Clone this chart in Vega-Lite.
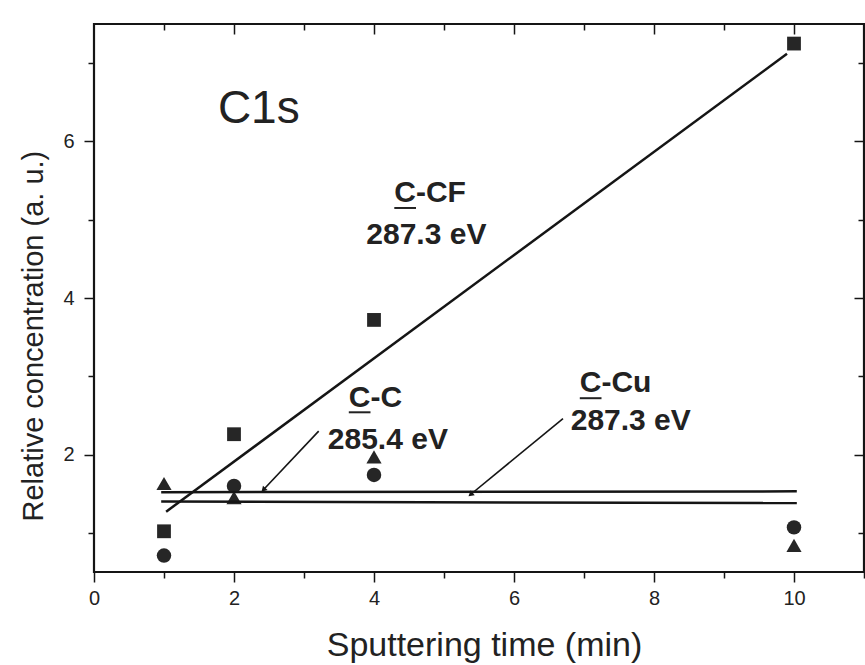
{
  "$schema": "https://vega.github.io/schema/vega-lite/v6.json",
  "width": 770,
  "height": 548,
  "autosize": {"type": "none"},
  "padding": {"left": 94, "top": 24, "right": 1, "bottom": 93},
  "background": "white",
  "config": {"view": {"stroke": "#151515", "strokeWidth": 2.2}, "font": "Liberation Sans"},
  "datasets": {
    "points": [
      {"series": "C-CF", "x": 1, "y": 1.02},
      {"series": "C-CF", "x": 2, "y": 2.26},
      {"series": "C-CF", "x": 4, "y": 3.72},
      {"series": "C-CF", "x": 10, "y": 7.25},
      {"series": "C-C", "x": 1, "y": 0.71},
      {"series": "C-C", "x": 2, "y": 1.6},
      {"series": "C-C", "x": 4, "y": 1.74},
      {"series": "C-C", "x": 10, "y": 1.07},
      {"series": "C-Cu", "x": 1, "y": 1.63},
      {"series": "C-Cu", "x": 2, "y": 1.45},
      {"series": "C-Cu", "x": 4, "y": 1.97},
      {"series": "C-Cu", "x": 10, "y": 0.84}
    ],
    "fits": [
      {"series": "C-CF", "x": 1.03, "y": 1.27},
      {"series": "C-CF", "x": 9.9, "y": 7.12},
      {"series": "C-C", "x": 0.96, "y": 1.52},
      {"series": "C-C", "x": 10.04, "y": 1.53},
      {"series": "C-Cu", "x": 0.96, "y": 1.4},
      {"series": "C-Cu", "x": 10.04, "y": 1.38}
    ],
    "labels": [
      {"text": "C-CF", "x": 4.29, "y": 5.34},
      {"text": "287.3 eV", "x": 3.89, "y": 4.81},
      {"text": "C-C", "x": 3.64, "y": 2.72},
      {"text": "285.4 eV", "x": 3.34, "y": 2.19},
      {"text": "C-Cu", "x": 6.94, "y": 2.91},
      {"text": "287.3 eV", "x": 6.81, "y": 2.43}
    ],
    "underlines": [
      {"label": "C-CF", "x": 4.29, "x2": 4.6, "y": 5.15},
      {"label": "C-C", "x": 3.64, "x2": 3.95, "y": 2.54},
      {"label": "C-Cu", "x": 6.94, "x2": 7.25, "y": 2.72}
    ],
    "pointers": [
      {"label": "C-C", "x": 3.21, "y": 2.3, "x2": 2.42, "y2": 1.55},
      {"label": "C-Cu", "x": 6.7, "y": 2.46, "x2": 5.38, "y2": 1.49}
    ],
    "title": [
      {"text": "C1s", "x": 1.77, "y": 6.42}
    ]
  },
  "layer": [
    {
      "data": {"name": "points"},
      "mark": {"type": "point", "filled": true, "color": "#262626", "opacity": 1},
      "encoding": {
        "x": {
          "field": "x", "type": "quantitative",
          "scale": {"domain": [0, 11], "nice": false, "zero": false},
          "axis": {
            "orient": "bottom",
            "values": [0, 1, 2, 3, 4, 5, 6, 7, 8, 9, 10, 11],
            "labelExpr": "datum.value % 2 == 0 ? datum.label : ''",
            "tickSize": {"condition": {"test": "datum.value % 2 == 1", "value": 6}, "value": 10},
            "domain": false, "grid": false,
            "tickColor": "#151515", "tickWidth": 1.5,
            "labelFont": "Liberation Sans", "labelFontSize": 20, "labelColor": "#222",
            "labelPadding": 6, "labelFlush": false, "labelOverlap": false,
            "title": "Sputtering time (min)",
            "titleFont": "Liberation Sans", "titleFontSize": 34, "titleFontWeight": "normal", "titleColor": "#222",
            "titleX": 390, "titleY": 83, "titleAlign": "center", "titleBaseline": "alphabetic"
          }
        },
        "y": {
          "field": "y", "type": "quantitative",
          "scale": {"domain": [0.5, 7.5], "nice": false, "zero": false},
          "axis": {
            "orient": "left",
            "values": [1, 2, 3, 4, 5, 6, 7],
            "labelExpr": "datum.value % 2 == 0 ? datum.label : ''",
            "tickSize": {"condition": {"test": "datum.value % 2 == 1", "value": 6}, "value": 10},
            "domain": false, "grid": false,
            "tickColor": "#151515", "tickWidth": 1.5,
            "labelFont": "Liberation Sans", "labelFontSize": 20, "labelColor": "#222",
            "labelPadding": 10, "labelFlush": false, "labelOverlap": false,
            "title": "Relative concentration (a. u.)",
            "titleFont": "Liberation Sans", "titleFontSize": 29, "titleFontWeight": "normal", "titleColor": "#222",
            "titleAngle": 270, "titleX": -52, "titleY": 497, "titleAlign": "left", "titleBaseline": "alphabetic"
          }
        },
        "shape": {
          "field": "series", "type": "nominal",
          "scale": {"domain": ["C-CF", "C-C", "C-Cu"], "range": ["square", "circle", "triangle-up"]},
          "legend": null
        },
        "size": {
          "field": "series", "type": "nominal",
          "scale": {"domain": ["C-CF", "C-C", "C-Cu"], "range": [190, 230, 230]},
          "legend": null
        }
      }
    },
    {
      "data": {"name": "fits"},
      "mark": {"type": "line", "color": "#151515", "strokeWidth": 2.5},
      "encoding": {
        "x": {
          "field": "x", "type": "quantitative",
          "scale": {"domain": [0, 11], "nice": false, "zero": false},
          "axis": {
            "orient": "top",
            "values": [1, 2, 3, 4, 5, 6, 7, 8, 9, 10],
            "labels": false,
            "tickSize": {"condition": {"test": "datum.value % 2 == 1", "value": -6}, "value": -10},
            "domain": false, "grid": false,
            "tickColor": "#151515", "tickWidth": 1.5,
            "title": null
          }
        },
        "y": {
          "field": "y", "type": "quantitative",
          "scale": {"domain": [0.5, 7.5], "nice": false, "zero": false},
          "axis": {
            "orient": "right",
            "values": [1, 2, 3, 4, 5, 6, 7],
            "labels": false,
            "tickSize": {"condition": {"test": "datum.value % 2 == 1", "value": -6}, "value": -10},
            "domain": false, "grid": false,
            "tickColor": "#151515", "tickWidth": 1.5,
            "title": null
          }
        },
        "detail": {"field": "series", "type": "nominal"}
      }
    },
    {
      "data": {"name": "underlines"},
      "mark": {"type": "rule", "color": "#222", "strokeWidth": 2},
      "encoding": {
        "x": {"field": "x", "type": "quantitative", "axis": null},
        "x2": {"field": "x2"},
        "y": {"field": "y", "type": "quantitative", "axis": null}
      }
    },
    {
      "data": {"name": "pointers"},
      "mark": {"type": "rule", "color": "#151515", "strokeWidth": 1.6},
      "encoding": {
        "x": {"field": "x", "type": "quantitative", "axis": null},
        "x2": {"field": "x2"},
        "y": {"field": "y", "type": "quantitative", "axis": null},
        "y2": {"field": "y2"}
      }
    },
    {
      "data": {"name": "pointers"},
      "transform": [{"filter": "datum.label == 'C-C'"}],
      "mark": {"type": "point", "shape": "triangle-up", "filled": true, "color": "#151515", "size": 40, "angle": 223, "opacity": 1},
      "encoding": {
        "x": {"field": "x2", "type": "quantitative", "axis": null},
        "y": {"field": "y2", "type": "quantitative", "axis": null}
      }
    },
    {
      "data": {"name": "pointers"},
      "transform": [{"filter": "datum.label == 'C-Cu'"}],
      "mark": {"type": "point", "shape": "triangle-up", "filled": true, "color": "#151515", "size": 40, "angle": 230, "opacity": 1},
      "encoding": {
        "x": {"field": "x2", "type": "quantitative", "axis": null},
        "y": {"field": "y2", "type": "quantitative", "axis": null}
      }
    },
    {
      "data": {"name": "labels"},
      "mark": {"type": "text", "align": "left", "baseline": "middle", "font": "Liberation Sans", "fontWeight": "bold", "fontSize": 30, "color": "#222"},
      "encoding": {
        "x": {"field": "x", "type": "quantitative", "axis": null},
        "y": {"field": "y", "type": "quantitative", "axis": null},
        "text": {"field": "text"}
      }
    },
    {
      "data": {"name": "title"},
      "mark": {"type": "text", "align": "left", "baseline": "middle", "font": "Liberation Sans", "fontWeight": "normal", "fontSize": 46, "color": "#222"},
      "encoding": {
        "x": {"field": "x", "type": "quantitative", "axis": null},
        "y": {"field": "y", "type": "quantitative", "axis": null},
        "text": {"field": "text"}
      }
    }
  ],
  "resolve": {"axis": {"x": "independent", "y": "independent"}}
}
